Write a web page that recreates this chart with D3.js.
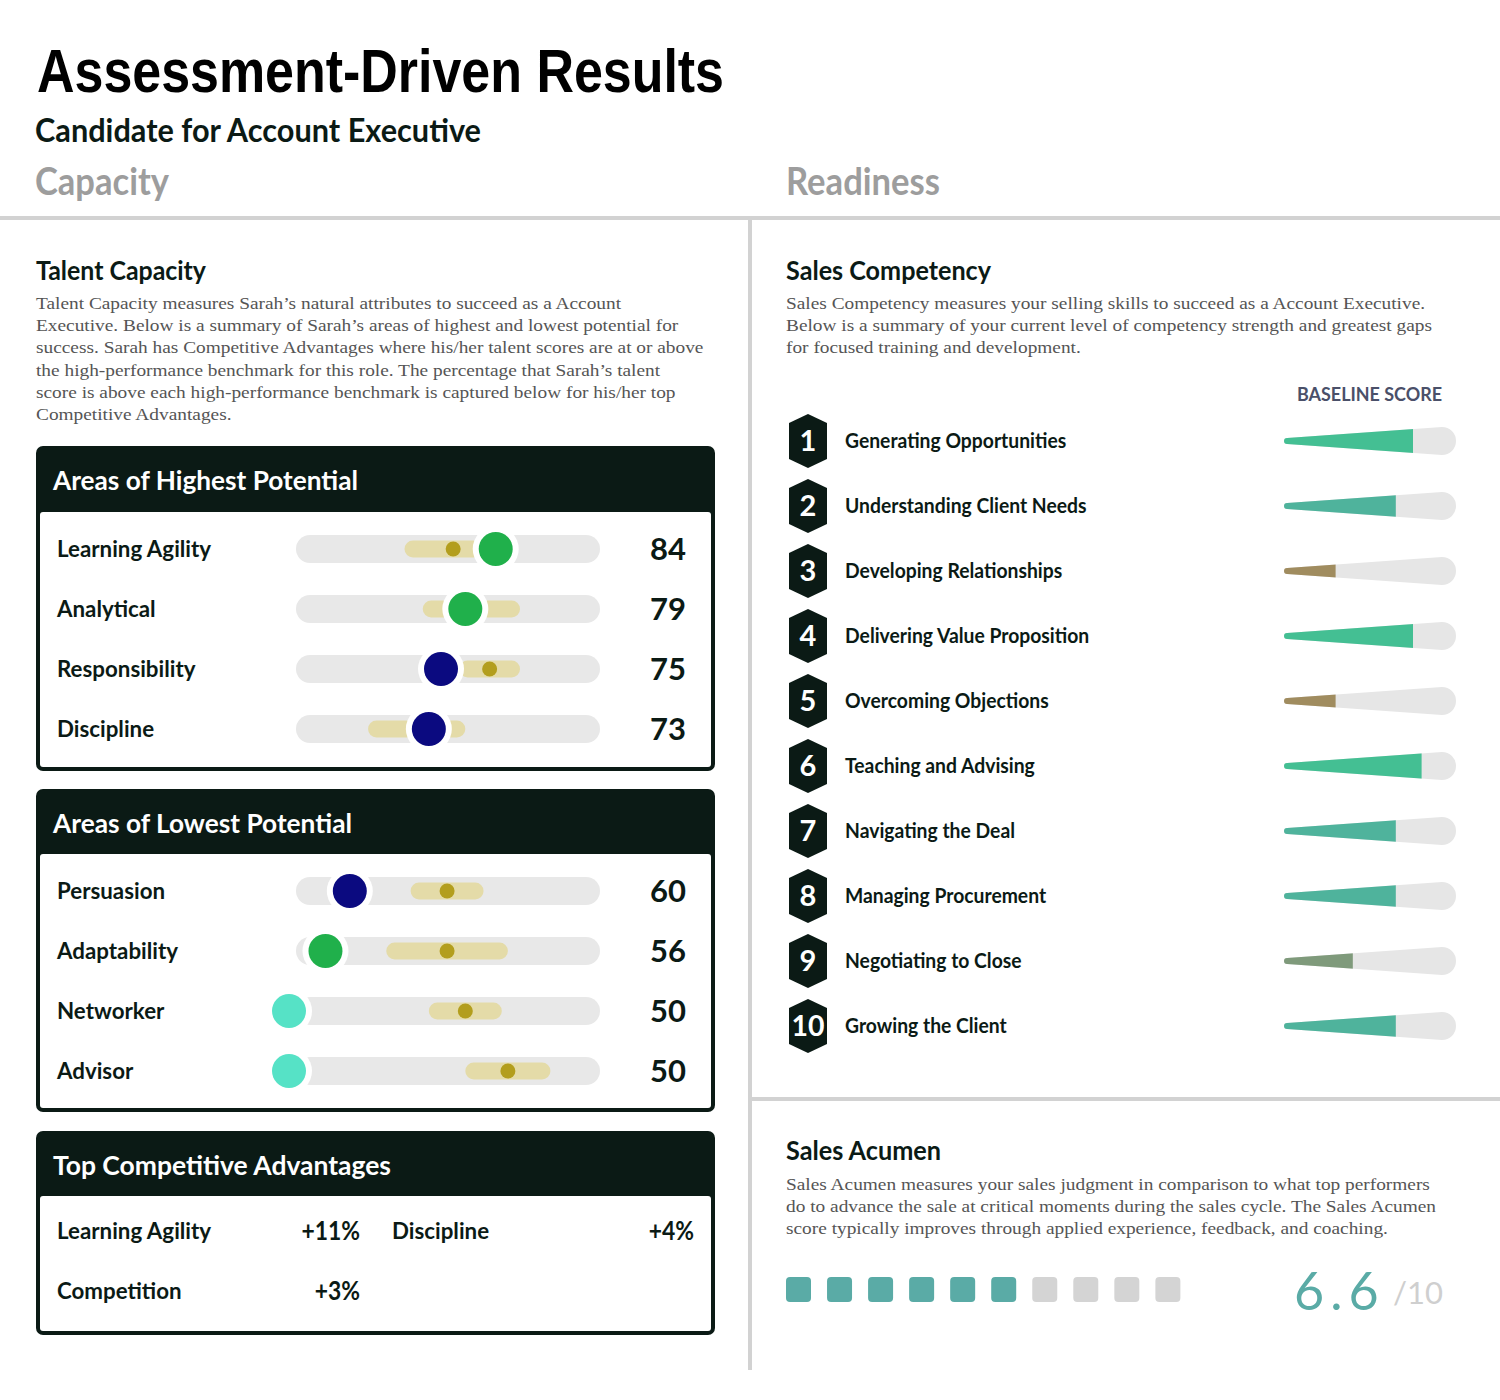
<!DOCTYPE html>
<html><head><meta charset="utf-8">
<script src="https://cdn.jsdelivr.net/npm/d3@7"></script>
<style>body{margin:0;background:#fff}</style>
</head><body><svg id="c" width="1500" height="1400"></svg>
<script>
// ---------- DATA ----------
const titleText = "Assessment-Driven Results";
const subtitleText = "Candidate for Account Executive";
const sectionNames = ["Capacity", "Readiness"];

const talentIntro = [
  "Talent Capacity measures Sarah’s natural attributes to succeed as a Account",
  "Executive. Below is a summary of Sarah’s areas of highest and lowest potential for",
  "success. Sarah has Competitive Advantages where his/her talent scores are at or above",
  "the high-performance benchmark for this role. The percentage that Sarah’s talent",
  "score is above each high-performance benchmark is captured below for his/her top",
  "Competitive Advantages."
];

const highestCategories = ["Learning Agility", "Analytical", "Responsibility", "Discipline"];
const highestScores     = [84, 79, 75, 73];
const highestBenchLow   = [69, 72, 78, 63];
const highestBenchHigh  = [85, 88, 88, 79];
const highestBenchmark  = [77, 80, 83, 71];
const highestTier       = ["green", "green", "navy", "navy"];

const lowestCategories = ["Persuasion", "Adaptability", "Networker", "Advisor"];
const lowestScores     = [60, 56, 50, 50];
const lowestBenchLow   = [70, 66, 73, 79];
const lowestBenchHigh  = [82, 86, 85, 93];
const lowestBenchmark  = [76, 76, 79, 86];
const lowestTier       = ["navy", "green", "aqua", "aqua"];

const advantageNames = ["Learning Agility", "Discipline", "Competition"];
const advantagePct   = [11, 4, 3];

const competencyIntro = [
  "Sales Competency measures your selling skills to succeed as a Account Executive.",
  "Below is a summary of your current level of competency strength and greatest gaps",
  "for focused training and development."
];
const competencies = ["Generating Opportunities", "Understanding Client Needs", "Developing Relationships",
  "Delivering Value Proposition", "Overcoming Objections", "Teaching and Advising",
  "Navigating the Deal", "Managing Procurement", "Negotiating to Close", "Growing the Client"];
const baselineScores = [7.5, 6.5, 3, 7.5, 3, 8, 6.5, 6.5, 4, 6.5];

const acumenIntro = [
  "Sales Acumen measures your sales judgment in comparison to what top performers",
  "do to advance the sale at critical moments during the sales cycle. The Sales Acumen",
  "score typically improves through applied experience, feedback, and coaching."
];
const acumenScore = 6.6;
const acumenMax = 10;

// ---------- STYLE ----------
const DARK = "#0b1a15";
const GRID = "#d2d2d2";
const HEAD_FONT = "'Liberation Sans Narrow','Arial Narrow','Liberation Sans',sans-serif";
const SANS = "Lato, 'Open Sans', sans-serif";
const SERIF = "'Liberation Serif','DejaVu Serif',serif";
const tierColor = {green: "#20b04b", navy: "#0b0a80", aqua: "#56e2c6"};

const svg = d3.select("#c");

function fitText(sel, w) {
  sel.attr("textLength", w).attr("lengthAdjust", "spacingAndGlyphs");
  return sel;
}
function condense(sel, k) {
  sel.each(function () {
    const n = this.getComputedTextLength();
    d3.select(this).attr("textLength", n * k).attr("lengthAdjust", "spacingAndGlyphs");
  });
  return sel;
}

// ---------- HEADER ----------
fitText(svg.append("text").attr("x", 37).attr("y", 92)
  .attr("font-family", HEAD_FONT).attr("font-weight", 700).attr("font-size", 61)
  .attr("fill", "#000").text(titleText), 687);
fitText(svg.append("text").attr("x", 35).attr("y", 142)
  .attr("font-family", SANS).attr("font-weight", 700).attr("font-size", 33)
  .attr("fill", DARK).text(subtitleText), 446);
const secX = [35, 786], secW = [134, 154];
sectionNames.forEach((s, i) => {
  fitText(svg.append("text").attr("x", secX[i]).attr("y", 195)
    .attr("font-family", SANS).attr("font-weight", 700).attr("font-size", 38)
    .attr("fill", "#9d9d9d").text(s), secW[i]);
});

// grid lines
svg.append("rect").attr("x", 0).attr("y", 216).attr("width", 1500).attr("height", 4).attr("fill", GRID);
svg.append("rect").attr("x", 748).attr("y", 218).attr("width", 4).attr("height", 1152).attr("fill", GRID);
svg.append("rect").attr("x", 752).attr("y", 1097).attr("width", 748).attr("height", 4).attr("fill", GRID);

// ---------- section headings & paragraphs ----------
function heading(x, y, txt, w) {
  fitText(svg.append("text").attr("x", x).attr("y", y)
    .attr("font-family", SANS).attr("font-weight", 700).attr("font-size", 27)
    .attr("fill", DARK).text(txt), w);
}
function paragraph(x, y0, lines) {
  const t = svg.append("text").attr("font-family", SERIF).attr("font-size", 17.5).attr("fill", "#555");
  lines.forEach((l, i) => t.append("tspan").attr("x", x).attr("y", y0 + i * 22.2).text(l));
  t.selectAll("tspan").each(function () {
    const n = this.getComputedTextLength();
    d3.select(this).attr("textLength", n * 1.105).attr("lengthAdjust", "spacingAndGlyphs");
  });
}
heading(36, 280, "Talent Capacity", 170);
paragraph(36, 309, talentIntro);
heading(786, 280, "Sales Competency", 205);
paragraph(786, 309, competencyIntro);
heading(786, 1160, "Sales Acumen", 155);
paragraph(786, 1190, acumenIntro);

// ---------- boxes ----------
function box(top, hb, bottom, title, tw) {
  svg.append("rect").attr("x", 36).attr("y", top).attr("width", 679).attr("height", bottom - top)
    .attr("rx", 7).attr("fill", DARK);
  svg.append("rect").attr("x", 40).attr("y", hb).attr("width", 671).attr("height", bottom - hb - 4)
    .attr("rx", 3).attr("fill", "#fff");
  fitText(svg.append("text").attr("x", 53).attr("y", top + 44)
    .attr("font-family", SANS).attr("font-weight", 700).attr("font-size", 27)
    .attr("fill", "#fff").text(title), tw);
}

const xTalent = d3.scaleLinear().domain([50, 100]).range([289, 593]);

function talentRows(hb, cats, scores, lo, hi, bench, tier) {
  const y = d3.scalePoint().domain(cats).range([hb + 37, hb + 217]);
  const g = svg.append("g");
  const rows = g.selectAll("g.row").data(cats.map((c, i) => ({c, s: scores[i], lo: lo[i], hi: hi[i], b: bench[i], t: tier[i]})))
    .join("g").attr("transform", d => `translate(0,${y(d.c)})`);
  rows.append("text").attr("x", 57).attr("dy", "0.35em")
    .attr("font-family", SANS).attr("font-weight", 700).attr("font-size", 23).attr("fill", DARK)
    .text(d => d.c).call(condense, 0.97);
  rows.append("rect").attr("x", 296).attr("y", -14).attr("width", 304).attr("height", 28).attr("rx", 14).attr("fill", "#e8e8e8");
  rows.append("rect").attr("x", d => xTalent(d.lo)).attr("y", -8.5)
    .attr("width", d => xTalent(d.hi) - xTalent(d.lo)).attr("height", 17).attr("rx", 8.5).attr("fill", "#e4dba8");
  rows.append("circle").attr("cx", d => xTalent(d.b)).attr("r", 7.5).attr("fill", "#b39e1d");
  rows.append("circle").attr("cx", d => xTalent(d.s)).attr("r", 23).attr("fill", "#fff");
  rows.append("circle").attr("cx", d => xTalent(d.s)).attr("r", 17).attr("fill", d => tierColor[d.t]);
  rows.append("text").attr("x", 686).attr("dy", "0.36em").attr("text-anchor", "end")
    .attr("font-family", SANS).attr("font-weight", 700).attr("font-size", 31).attr("fill", DARK)
    .text(d => d.s);
}

box(446, 512, 771, "Areas of Highest Potential", 305);
talentRows(512, highestCategories, highestScores, highestBenchLow, highestBenchHigh, highestBenchmark, highestTier);
box(789, 854, 1112, "Areas of Lowest Potential", 299);
talentRows(854, lowestCategories, lowestScores, lowestBenchLow, lowestBenchHigh, lowestBenchmark, lowestTier);
box(1131, 1196, 1335, "Top Competitive Advantages", 338);

// advantages
const advCol = d3.scaleOrdinal().domain([0, 1]).range([57, 392]);
const advPctX = d3.scaleOrdinal().domain([0, 1]).range([360, 694]);
const advRow = d3.scaleLinear().domain([0, 1]).range([1231, 1291]);
const adv = svg.append("g").selectAll("g").data(advantageNames.map((n, i) => ({n, p: advantagePct[i], i})))
  .join("g").attr("transform", d => `translate(0,${advRow(Math.floor(d.i / 2))})`);
adv.append("text").attr("x", d => advCol(d.i % 2)).attr("dy", "0.35em")
  .attr("font-family", SANS).attr("font-weight", 700).attr("font-size", 23).attr("fill", DARK)
  .text(d => d.n).call(condense, 0.97);
adv.append("text").attr("x", d => advPctX(d.i % 2)).attr("dy", "0.36em").attr("text-anchor", "end")
  .attr("font-family", SANS).attr("font-weight", 700).attr("font-size", 26).attr("fill", DARK)
  .text(d => "+" + d.p + "%").call(condense, 0.88);

// ---------- Sales competency ----------
fitText(svg.append("text").attr("x", 1442).attr("y", 401).attr("text-anchor", "end")
  .attr("font-family", SANS).attr("font-weight", 700).attr("font-size", 18).attr("fill", "#4a5069")
  .text("BASELINE SCORE"), 145);

const yComp = d3.scalePoint().domain(competencies).range([441, 1026]);
const xBase = d3.scaleLinear().domain([0, 10]).range([1284, 1456]);
function baseColor(v) {
  if (v >= 7) return "#44bf93";
  if (v >= 5) return "#4fb39c";
  if (v >= 3.5) return "#7f9a7b";
  return "#a08c5f";
}
function hexPath(h, w) {
  const a = h / 2, b = w / 2, c = a - 9;
  return `M0,${-a} L${b},${-c} L${b},${c} L0,${a} L${-b},${c} L${-b},${-c} Z`;
}
function taperPath() {
  const x0 = xBase(0) + 3, x1 = xBase(10) - 14;
  return `M${x0},-3 L${x1},-14 A14,14 0 0 1 ${x1},14 L${x0},3 A3,3 0 0 1 ${x0},-3 Z`;
}
const defs = svg.append("defs");
defs.append("clipPath").attr("id", "taper").append("path").attr("d", taperPath());

const comp = svg.append("g").selectAll("g").data(competencies.map((c, i) => ({c, v: baselineScores[i], n: i + 1})))
  .join("g").attr("transform", d => `translate(0,${yComp(d.c)})`);
comp.append("path").attr("transform", "translate(808,0)").attr("d", hexPath(54, 38)).attr("fill", DARK);
comp.append("text").attr("x", 808).attr("dy", "0.36em").attr("text-anchor", "middle")
  .attr("font-family", SANS).attr("font-weight", 700).attr("font-size", 29).attr("fill", "#fff")
  .text(d => d.n).each(function (d) { if (d.n >= 10) d3.select(this).attr("textLength", 33).attr("lengthAdjust", "spacingAndGlyphs"); });
comp.append("text").attr("x", 845).attr("dy", "0.35em")
  .attr("font-family", SANS).attr("font-weight", 700).attr("font-size", 21).attr("fill", DARK)
  .text(d => d.c).call(condense, 0.92);
comp.append("path").attr("d", taperPath()).attr("fill", "#e6e6e6");
comp.append("rect").attr("clip-path", "url(#taper)")
  .attr("x", xBase(0)).attr("y", -16).attr("width", d => xBase(d.v) - xBase(0)).attr("height", 32)
  .attr("fill", d => baseColor(d.v));

// ---------- Sales acumen ----------
const xSq = d3.scaleBand().domain(d3.range(acumenMax)).range([786, 1180]).paddingInner(0.4);
svg.append("g").selectAll("rect").data(d3.range(acumenMax)).join("rect")
  .attr("x", d => xSq(d)).attr("y", 1277).attr("width", 25).attr("height", 25).attr("rx", 4)
  .attr("fill", d => d < Math.floor(acumenScore) ? "#5aaba6" : "#d4d4d4");
svg.append("text").attr("x", 1294).attr("y", 1310)
  .attr("font-family", SANS).attr("font-weight", 400).attr("font-size", 52).attr("fill", "#5aaba6")
  .attr("letter-spacing", 6).text(acumenScore.toFixed(1));
svg.append("text").attr("x", 1443).attr("y", 1304).attr("text-anchor", "end")
  .attr("font-family", SANS).attr("font-weight", 400).attr("font-size", 31).attr("fill", "#cfcfcf")
  .text("/" + acumenMax);
</script>
</body></html>
